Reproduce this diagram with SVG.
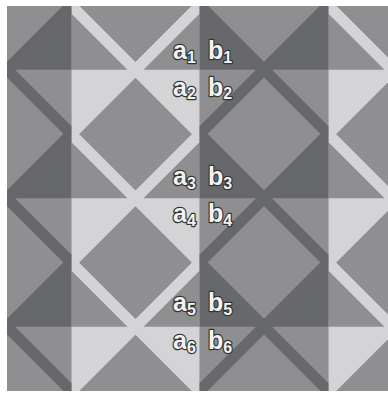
<svg xmlns="http://www.w3.org/2000/svg" xmlns:xlink="http://www.w3.org/1999/xlink" width="388" height="393" viewBox="0 0 388 393">
  <style>
    .lt { fill: #d4d4d6; }
    .md { fill: #8f8f91; }
    .dk { fill: #67686b; }
    .lb { font-family: "Liberation Sans", Arial, sans-serif; font-size: 25px; font-weight: bold; fill: #f2f2f2; stroke: #333333; stroke-width: 2.4; paint-order: stroke; stroke-linejoin: round; }
    .sub { font-size: 16px; }
  </style>
  <defs>
    <clipPath id="content"><rect x="7" y="6" width="381" height="385"/></clipPath>
    <clipPath id="darkCols">
      <rect x="0" y="0" width="71.25" height="393"/>
      <rect x="199.75" y="0" width="128.5" height="393"/>
    </clipPath>
    <g id="lines" fill="none">
      <path d="M-20 96.75 L410 -333.25"/>
      <path d="M-20 225.25 L410 -204.75"/>
      <path d="M-20 353.75 L410 -76.25"/>
      <path d="M-20 482.25 L410 52.25"/>
      <path d="M-20 610.75 L410 180.75"/>
      <path d="M-20 739.25 L410 309.25"/>
      <path d="M-20 299.75 L410 729.75"/>
      <path d="M-20 171.25 L410 601.25"/>
      <path d="M-20 42.75 L410 472.75"/>
      <path d="M-20 -85.75 L410 344.25"/>
      <path d="M-20 -214.25 L410 215.75"/>
      <path d="M-20 -342.75 L410 87.25"/>
    </g>
    <g id="upperHalves">
      <rect x="0" y="69.75" width="388" height="64.25"/>
      <rect x="0" y="198.25" width="388" height="64.25"/>
      <rect x="0" y="326.75" width="388" height="66.25"/>
    </g>
    <path id="dm" d="M0 -56.25 L56.25 0 L0 56.25 L-56.25 0Z"/>
  </defs>

  <g id="quilt" clip-path="url(#content)">
    <g id="light-columns">
      <rect class="md" x="0" y="0" width="388" height="393"/>
      <use href="#upperHalves" class="lt"/>
      <use href="#lines" stroke="#d4d4d6" stroke-width="11.3"/>
    </g>
    <g id="dark-columns" clip-path="url(#darkCols)">
      <rect class="dk" x="0" y="0" width="388" height="393"/>
      <use href="#upperHalves" class="md"/>
      <use href="#lines" stroke="#67686b" stroke-width="11.3"/>
    </g>
    <g id="diamonds" class="md">
      <use href="#dm" x="7" y="5.5"/>
      <use href="#dm" x="135.5" y="5.5"/>
      <use href="#dm" x="264" y="5.5"/>
      <use href="#dm" x="392.5" y="5.5"/>
      <use href="#dm" x="7" y="134"/>
      <use href="#dm" x="135.5" y="134"/>
      <use href="#dm" x="264" y="134"/>
      <use href="#dm" x="392.5" y="134"/>
      <use href="#dm" x="7" y="262.5"/>
      <use href="#dm" x="135.5" y="262.5"/>
      <use href="#dm" x="264" y="262.5"/>
      <use href="#dm" x="392.5" y="262.5"/>
      <use href="#dm" x="7" y="391"/>
      <use href="#dm" x="135.5" y="391"/>
      <use href="#dm" x="264" y="391"/>
      <use href="#dm" x="392.5" y="391"/>
    </g>
  </g>

  <g id="labels">
    <text class="lb" x="173" y="59">a<tspan class="sub" dy="3.5">1</tspan></text>
    <text class="lb" x="208" y="59">b<tspan class="sub" dy="3.5">1</tspan></text>
    <text class="lb" x="173" y="95.5">a<tspan class="sub" dy="3.5">2</tspan></text>
    <text class="lb" x="208" y="95.5">b<tspan class="sub" dy="3.5">2</tspan></text>
    <text class="lb" x="173" y="185">a<tspan class="sub" dy="3.5">3</tspan></text>
    <text class="lb" x="208" y="185">b<tspan class="sub" dy="3.5">3</tspan></text>
    <text class="lb" x="173" y="222">a<tspan class="sub" dy="3.5">4</tspan></text>
    <text class="lb" x="208" y="222">b<tspan class="sub" dy="3.5">4</tspan></text>
    <text class="lb" x="173" y="311">a<tspan class="sub" dy="3.5">5</tspan></text>
    <text class="lb" x="208" y="311">b<tspan class="sub" dy="3.5">5</tspan></text>
    <text class="lb" x="173" y="349">a<tspan class="sub" dy="3.5">6</tspan></text>
    <text class="lb" x="208" y="349">b<tspan class="sub" dy="3.5">6</tspan></text>
  </g>
</svg>
